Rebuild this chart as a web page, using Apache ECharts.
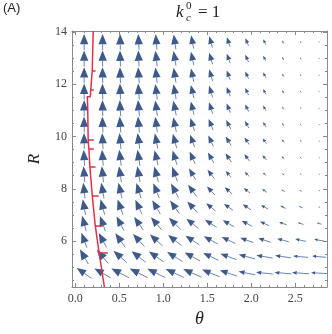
<!DOCTYPE html>
<html>
<head>
<meta charset="utf-8">
<script src="https://cdn.jsdelivr.net/npm/echarts@6/dist/echarts.min.js"></script>
<style>
  html, body { margin: 0; padding: 0; background: #fff; }
  #chart { width: 332px; height: 334px; }
</style>
</head>
<body>
<div id="chart"></div>
<script>
// grid of arrow positions
const THETA = [0.10, 0.31, 0.51, 0.72, 0.92, 1.13, 1.33, 1.54, 1.74, 1.95, 2.15, 2.36, 2.56, 2.77]
const R_ROWS = [13.62, 12.99, 12.35, 11.72, 11.09, 10.46, 9.83, 9.19, 8.56, 7.93, 7.30, 6.67, 6.03, 5.40, 4.77]

// field components, one row per R value (top to bottom)
const D_THETA = [
  [0, 0, -.003, -.009, -.015, -.024, -.029, -.035, -.037, -.036, -.031, -.020, -.013, -.010],
  [0, 0, -.006, -.009, -.019, -.027, -.032, -.038, -.039, -.037, -.032, -.020, -.014, -.010],
  [0, -.003, -.006, -.013, -.019, -.027, -.032, -.038, -.039, -.038, -.033, -.021, -.014, -.010],
  [0, -.003, -.006, -.013, -.021, -.030, -.035, -.040, -.041, -.040, -.034, -.022, -.014, -.010],
  [0, -.003, -.009, -.016, -.024, -.033, -.037, -.042, -.043, -.041, -.035, -.022, -.015, -.010],
  [-.003, -.006, -.013, -.016, -.024, -.035, -.047, -.051, -.053, -.045, -.037, -.023, -.015, -.011],
  [-.003, -.009, -.016, -.025, -.034, -.044, -.052, -.058, -.060, -.054, -.044, -.029, -.019, -.012],
  [-.009, -.013, -.022, -.028, -.040, -.050, -.062, -.066, -.067, -.060, -.049, -.033, -.021, -.013],
  [-.013, -.019, -.028, -.032, -.047, -.060, -.076, -.077, -.066, -.053, -.039, -.028, -.019, -.015],
  [-.019, -.032, -.041, -.053, -.068, -.085, -.097, -.089, -.084, -.071, -.056, -.039, -.031, -.016],
  [-.032, -.047, -.062, -.077, -.091, -.104, -.114, -.104, -.102, -.094, -.079, -.060, -.041, -.021],
  [-.047, -.062, -.085, -.104, -.121, -.133, -.137, -.134, -.128, -.120, -.103, -.085, -.065, -.055],
  [-.062, -.088, -.111, -.129, -.144, -.152, -.157, -.159, -.154, -.150, -.140, -.132, -.122, -.112],
  [-.097, -.131, -.152, -.161, -.168, -.173, -.174, -.175, -.182, -.187, -.185, -.180, -.170, -.158],
  [-.167, -.187, -.201, -.203, -.204, -.206, -.208, -.200, -.194, -.190, -.192, -.192, -.193, -.182]
]
const D_R = [
  [.613, .613, .613, .612, .592, .569, .508, .444, .362, .282, .205, .116, .072, .047],
  [.613, .613, .612, .612, .591, .568, .506, .442, .360, .280, .203, .115, .071, .047],
  [.613, .613, .612, .611, .591, .568, .506, .442, .360, .278, .201, .114, .070, .046],
  [.613, .613, .612, .611, .589, .566, .504, .440, .358, .276, .199, .113, .069, .046],
  [.613, .613, .612, .611, .588, .564, .502, .437, .355, .273, .197, .111, .068, .045],
  [.613, .612, .611, .611, .588, .562, .492, .426, .338, .265, .193, .108, .066, .044],
  [.613, .612, .611, .607, .583, .555, .486, .417, .348, .270, .199, .117, .071, .041],
  [.612, .611, .608, .606, .579, .549, .473, .402, .333, .257, .185, .107, .064, .037],
  [.611, .610, .606, .604, .592, .558, .427, .332, .238, .173, .111, .066, .042, .029],
  [.610, .604, .597, .586, .568, .541, .449, .322, .256, .193, .132, .077, .050, .023],
  [.604, .592, .576, .556, .531, .502, .427, .296, .242, .214, .153, .108, .065, .029],
  [.592, .576, .541, .502, .484, .447, .374, .292, .249, .216, .162, .105, .071, .049],
  [.576, .558, .533, .484, .436, .401, .344, .297, .243, .183, .154, .119, .088, .067],
  [.564, .528, .461, .425, .396, .366, .325, .275, .223, .169, .110, .085, .050, .047],
  [.396, .364, .359, .348, .336, .324, .312, .273, .225, .124, .068, .057, .046, .032]
]

// red curve
const CURVE_THETA = [0.203, 0.192, 0.175, 0.170, 0.135, 0.140, 0.146, 0.154, 0.165, 0.192, 0.226, 0.270, 0.330]
const CURVE_R = [14.04, 12.52, 11.78, 11.52, 11.52, 11.20, 9.87, 9.52, 8.86, 7.75, 6.60, 5.55, 4.24]
// short red marks to the right of the curve
const MARK_R = [12.52, 11.78, 9.87, 9.52, 8.86, 7.75, 6.60, 5.55]
const MARK_FROM = [0.192, 0.175, 0.146, 0.154, 0.165, 0.192, 0.226, 0.270]
const MARK_TO = [0.230, 0.210, 0.210, 0.210, 0.230, 0.265, 0.310, 0.370]

const X_TICKS = [0, 0.5, 1, 1.5, 2, 2.5]
const X_MINOR = [0.1, 0.2, 0.3, 0.4, 0.6, 0.7, 0.8, 0.9, 1.1, 1.2, 1.3, 1.4, 1.6, 1.7, 1.8, 1.9, 2.1, 2.2, 2.3, 2.4, 2.6, 2.7, 2.8]
const Y_TICKS = [6, 8, 10, 12, 14]
const Y_MINOR = [4.5, 5, 5.5, 6.5, 7, 7.5, 8.5, 9, 9.5, 10.5, 11, 11.5, 12.5, 13, 13.5]

const X_MIN = -0.038, X_MAX = 2.86
const Y_MIN = 4.24, Y_MAX = 14.04

const FRAME = '#8a8a8a'
const ARROW = '#3d5a8a'
const RED = '#e3304c'
const SERIF = "'Liberation Serif', 'DejaVu Serif', serif"

let chart = echarts.init(document.getElementById('chart'))

let arrowData = []
R_ROWS.forEach((r, i) => {
  THETA.forEach((t, j) => {
    arrowData.push([t, r, D_THETA[i][j], D_R[i][j]])
  })
})

let marks = MARK_R.map((r, i) => ({ coords: [[MARK_FROM[i], r], [MARK_TO[i], r]] }))

function xAxisOf(pos, values, len, main) {
  return {
    type: 'value', position: pos, min: X_MIN, max: X_MAX,
    axisLine: { show: main, onZero: false, lineStyle: { color: FRAME, width: 1 } },
    axisTick: { show: true, inside: true, length: len, customValues: values, lineStyle: { color: FRAME } },
    axisLabel: { show: false },
    splitLine: { show: false }
  }
}
function yAxisOf(pos, values, len, main) {
  return {
    type: 'value', position: pos, min: Y_MIN, max: Y_MAX,
    axisLine: { show: main, onZero: false, lineStyle: { color: FRAME, width: 1 } },
    axisTick: { show: true, inside: true, length: len, customValues: values, lineStyle: { color: FRAME } },
    axisLabel: { show: false },
    splitLine: { show: false }
  }
}

let xMain = xAxisOf('bottom', X_TICKS, 4, true)
xMain.axisLabel = {
  show: true, customValues: X_TICKS, margin: 6,
  formatter: v => v.toFixed(1),
  fontFamily: SERIF, fontSize: 12, color: '#444'
}
xMain.name = 'θ'
xMain.nameLocation = 'middle'
xMain.nameGap = 23
xMain.nameTextStyle = { fontFamily: SERIF, fontStyle: 'italic', fontSize: 18, color: '#222' }

let yMain = yAxisOf('left', Y_TICKS, 4, true)
yMain.axisLabel = {
  show: true, customValues: Y_TICKS, margin: 5,
  fontFamily: SERIF, fontSize: 12, color: '#444'
}
yMain.name = 'R'
yMain.nameLocation = 'middle'
yMain.nameGap = 29
yMain.nameTextStyle = { fontFamily: SERIF, fontStyle: 'italic', fontSize: 17, color: '#222' }

function renderArrow(params, api) {
  let t = api.value(0), r = api.value(1), u = api.value(2), v = api.value(3)
  let a = api.coord([t - u / 2, r - v / 2])
  let b = api.coord([t + u / 2, r + v / 2])
  let dx = b[0] - a[0], dy = b[1] - a[1]
  let len = Math.hypot(dx, dy)
  if (len < 0.05) return
  let ux = dx / len, uy = dy / len
  // heads shrink for nearly horizontal arrows
  let hl = len * 0.65 * (0.2 + 0.8 * Math.sqrt(Math.abs(uy)))
  hl = Math.max(hl, Math.min(len, 1.2))
  let hw = hl * 0.4
  let bx = b[0] - ux * hl, by = b[1] - uy * hl
  let nx = -uy, ny = ux
  return {
    type: 'group',
    children: [
      {
        type: 'line',
        shape: { x1: a[0], y1: a[1], x2: bx, y2: by },
        style: { stroke: '#5a77a6', lineWidth: 0.9 }
      },
      {
        type: 'polygon',
        shape: { points: [[b[0], b[1]], [bx + nx * hw, by + ny * hw], [bx - nx * hw, by - ny * hw]] },
        style: { fill: ARROW }
      }
    ]
  }
}

let options = {
  animation: false,
  backgroundColor: '#fff',
  grid: { left: 72, right: 5, top: 31, bottom: 47 },
  xAxis: [xMain, xAxisOf('bottom', X_MINOR, 2, false), xAxisOf('top', X_TICKS, 4, true), xAxisOf('top', X_MINOR, 2, false)],
  yAxis: [yMain, yAxisOf('left', Y_MINOR, 2, false), yAxisOf('right', Y_TICKS, 4, true), yAxisOf('right', Y_MINOR, 2, false)],
  graphic: [
    { type: 'text', left: 3, top: 2, style: { text: '(A)', font: "13px 'Liberation Sans', Arial, sans-serif", fill: '#222' } },
    { type: 'text', x: 176, y: 4, style: { text: 'k', font: "italic 17px " + SERIF, fill: '#222' } },
    { type: 'text', x: 186, y: 1, style: { text: '0', font: "11px " + SERIF, fill: '#222' } },
    { type: 'text', x: 186, y: 13, style: { text: 'c', font: "italic 11px " + SERIF, fill: '#222' } },
    { type: 'text', x: 198, y: 4, style: { text: '= 1', font: "17px " + SERIF, fill: '#222' } }
  ],
  series: [
    {
      type: 'custom',
      renderItem: renderArrow,
      clip: true,
      data: arrowData,
      z: 2
    },
    {
      type: 'line',
      data: CURVE_THETA.map((t, i) => [t, CURVE_R[i]]),
      symbol: 'none',
      lineStyle: { color: RED, width: 1.5 },
      z: 3
    },
    {
      type: 'lines',
      coordinateSystem: 'cartesian2d',
      data: marks,
      lineStyle: { color: RED, width: 1.5, opacity: 1 },
      z: 3
    }
  ]
}
chart.setOption(options)
</script>
</body>
</html>
